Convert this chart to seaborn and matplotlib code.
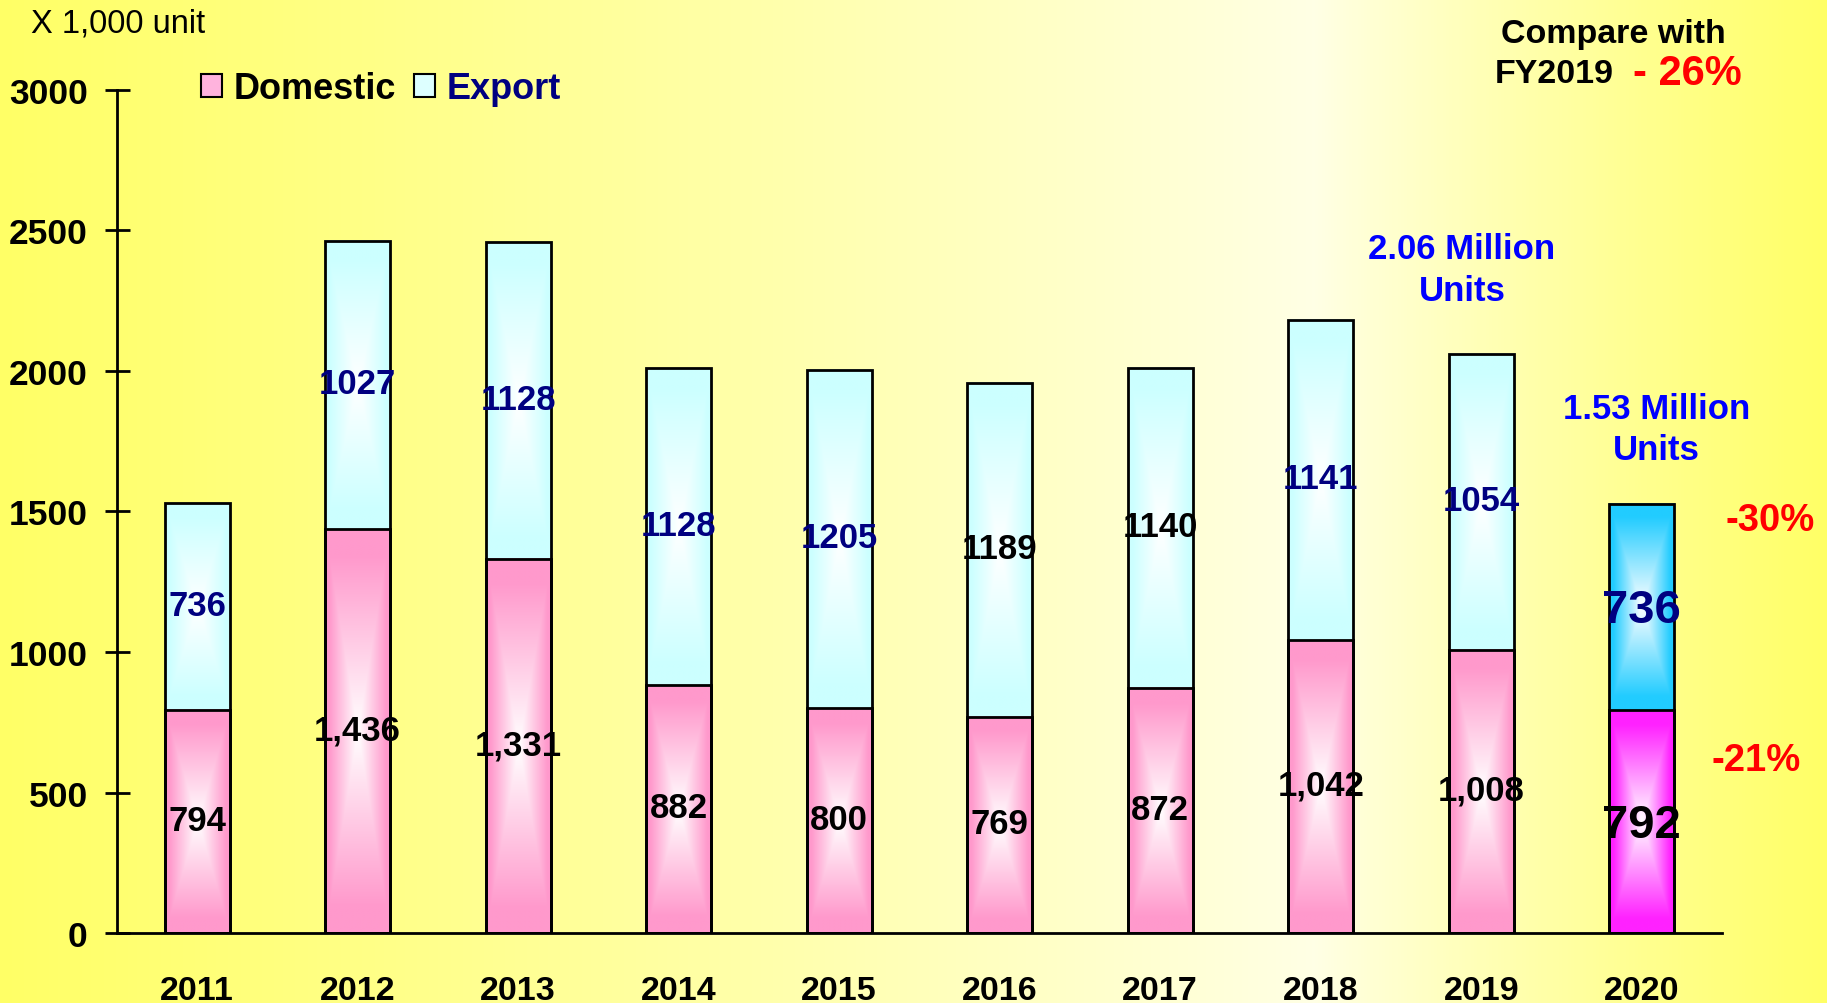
import numpy as np
import pandas as pd
import matplotlib
matplotlib.use("Agg")
import matplotlib.pyplot as plt
import seaborn as sns
from matplotlib.patches import Patch
from matplotlib.colors import to_rgb

# ---------------- data ----------------
years = ["2011", "2012", "2013", "2014", "2015", "2016", "2017", "2018", "2019", "2020"]
domestic = [794, 1436, 1331, 882, 800, 769, 872, 1042, 1008, 792]
export = [736, 1027, 1128, 1128, 1205, 1189, 1140, 1141, 1054, 736]
domestic_labels = ["794", "1,436", "1,331", "882", "800", "769", "872", "1,042", "1,008", "792"]
export_labels = ["736", "1027", "1128", "1128", "1205", "1189", "1140", "1141", "1054", "736"]
export_label_colors = ["#000080", "#000080", "#000080", "#000080", "#000080",
                       "black", "black", "#000080", "#000080", "#000080"]
yticks = [0, 500, 1000, 1500, 2000, 2500, 3000]

sns.set_theme(style="white")
plt.rcParams["font.family"] = ["Liberation Sans", "DejaVu Sans"]
plt.rcParams["text.color"] = "black"
plt.rcParams["xtick.color"] = "black"
plt.rcParams["ytick.color"] = "black"
plt.rcParams["axes.labelcolor"] = "black"

fig = plt.figure(figsize=(18.27, 10.04), dpi=100)

# background gradient (yellow - pale - yellow)
bg = fig.add_axes([0, 0, 1, 1], zorder=-10)
xs = np.linspace(0, 1, 600)
peak = 0.72
t = np.where(xs < peak, (peak - xs) / peak, (xs - peak) / (1 - peak))
t = np.clip(t, 0, 1) ** 0.9
c_edge = np.array([1.0, 1.0, 0.40])
c_mid = np.array([1.0, 1.0, 0.90])
row = c_mid + (c_edge - c_mid) * t[:, None]
bg.imshow(row[None, :, :], aspect="auto", extent=[0, 1, 0, 1])
bg.set_axis_off()

ax = fig.add_axes([0.064, 0.0697, 0.8785, 0.8397])
ax.patch.set_alpha(0)

df = pd.DataFrame({"year": years, "domestic": domestic, "export": export})
df["total"] = df["domestic"] + df["export"]

bar_w = 0.405
sns.barplot(data=df, x="year", y="total", color="#CCFFFF", width=bar_w,
            saturation=1, edgecolor="black", linewidth=2, ax=ax, zorder=3)
sns.barplot(data=df, x="year", y="domestic", color="#FF99CC", width=bar_w,
            saturation=1, edgecolor="black", linewidth=2, ax=ax, zorder=3)


def grad_img(edge, n=300, m=120):
    u = np.linspace(-1, 1, m)
    v = np.linspace(-1, 1, n)
    U, V = np.meshgrid(u, v)
    tt = np.maximum(np.abs(U), np.abs(V))
    tt = np.clip(tt * 1.15, 0, 1)
    e = np.array(to_rgb(edge))
    return np.ones(3) + (e - np.ones(3)) * tt[..., None]


patches = list(ax.patches)
n = len(years)
tot_p, dom_p = patches[:n], patches[n:2 * n]
for i in range(n):
    last = i == n - 1
    tp, dp = tot_p[i], dom_p[i]
    x0, w = tp.get_x(), tp.get_width()
    dtop = dp.get_height()
    ttop = tp.get_height()
    ec = "#22CCFF" if last else "#CCFFFF"
    dc = "#FF22FF" if last else "#FF99CC"
    ax.imshow(grad_img(ec), extent=[x0, x0 + w, dtop, ttop], aspect="auto",
              zorder=2, interpolation="bilinear")
    ax.imshow(grad_img(dc), extent=[dp.get_x(), dp.get_x() + w, 0, dtop], aspect="auto",
              zorder=2, interpolation="bilinear")
    tp.set_facecolor("none")
    dp.set_facecolor("none")
    cx = x0 + w / 2
    fs = 34 if last else 25
    off = -10 if last else 5
    ax.text(cx, dtop / 2 + off, domestic_labels[i], ha="center", va="center",
            fontsize=fs, fontweight="bold", color="black", zorder=5)
    ax.text(cx, dtop + (ttop - dtop) / 2 + off, export_labels[i], ha="center", va="center",
            fontsize=fs, fontweight="bold", color=export_label_colors[i], zorder=5)

ax.set_xlim(-0.5, n - 0.5)
ax.set_ylim(0, 3000)
ax.set_yticks(yticks)
ax.set_yticklabels([str(v) for v in yticks], fontsize=25.5, fontweight="bold")
ax.set_xticks(range(n))
ax.set_xticklabels(years, fontsize=24.5, fontweight="bold")
ax.tick_params(axis="x", which="major", length=0, pad=30)
ax.set_xticks(np.arange(-0.5, n, 1.0), minor=True)
ax.tick_params(axis="x", which="minor", direction="inout", length=20, width=2, color="black")
ax.tick_params(axis="y", direction="inout", length=18, width=2, color="black", pad=12, left=True)
ax.set_xlabel("")
ax.set_ylabel("")
for s in ["top", "right"]:
    ax.spines[s].set_visible(False)
for s in ["left", "bottom"]:
    ax.spines[s].set_color("black")
    ax.spines[s].set_linewidth(2)
ax.grid(False)

# legend
handles = [Patch(facecolor="#FFB3DD", edgecolor="black", linewidth=1.5),
           Patch(facecolor="#DDFFFF", edgecolor="black", linewidth=1.5)]
leg = ax.legend(handles, ["Domestic", "Export"], loc="center left",
                bbox_to_anchor=(0.032, 1.002), ncol=2, frameon=False,
                prop={"size": 26, "weight": "bold"}, handlelength=0.6,
                handleheight=0.6, handletextpad=0.3, columnspacing=0.5)
leg.get_texts()[0].set_color("black")
leg.get_texts()[1].set_color("#000080")

# annotations
fig.text(0.017, 0.976, "X 1,000 unit", fontsize=23.5, ha="left", va="center", color="black")
fig.text(0.883, 0.966, "Compare with", fontsize=24.5, fontweight="bold", ha="center", va="center")
fig.text(0.8835, 0.926, "FY2019", fontsize=24.5, fontweight="bold", ha="right", va="center")
fig.text(0.894, 0.926, "- 26%", fontsize=30, fontweight="bold", ha="left", va="center", color="#FF0000")

ax.text(7.88, 2435, "2.06 Million", fontsize=25, fontweight="bold", color="#0000FF", ha="center", va="center")
ax.text(7.88, 2286, "Units", fontsize=25, fontweight="bold", color="#0000FF", ha="center", va="center")
ax.text(9.09, 1868, "1.53 Million", fontsize=25, fontweight="bold", color="#0000FF", ha="center", va="center")
ax.text(9.09, 1721, "Units", fontsize=25, fontweight="bold", color="#0000FF", ha="center", va="center")
ax.text(9.80, 1470, "-30%", fontsize=27.5, fontweight="bold", color="#FF0000", ha="center", va="center", clip_on=False)
ax.text(9.71, 614, "-21%", fontsize=27.5, fontweight="bold", color="#FF0000", ha="center", va="center", clip_on=False)

fig.savefig("out.png", dpi=100)
